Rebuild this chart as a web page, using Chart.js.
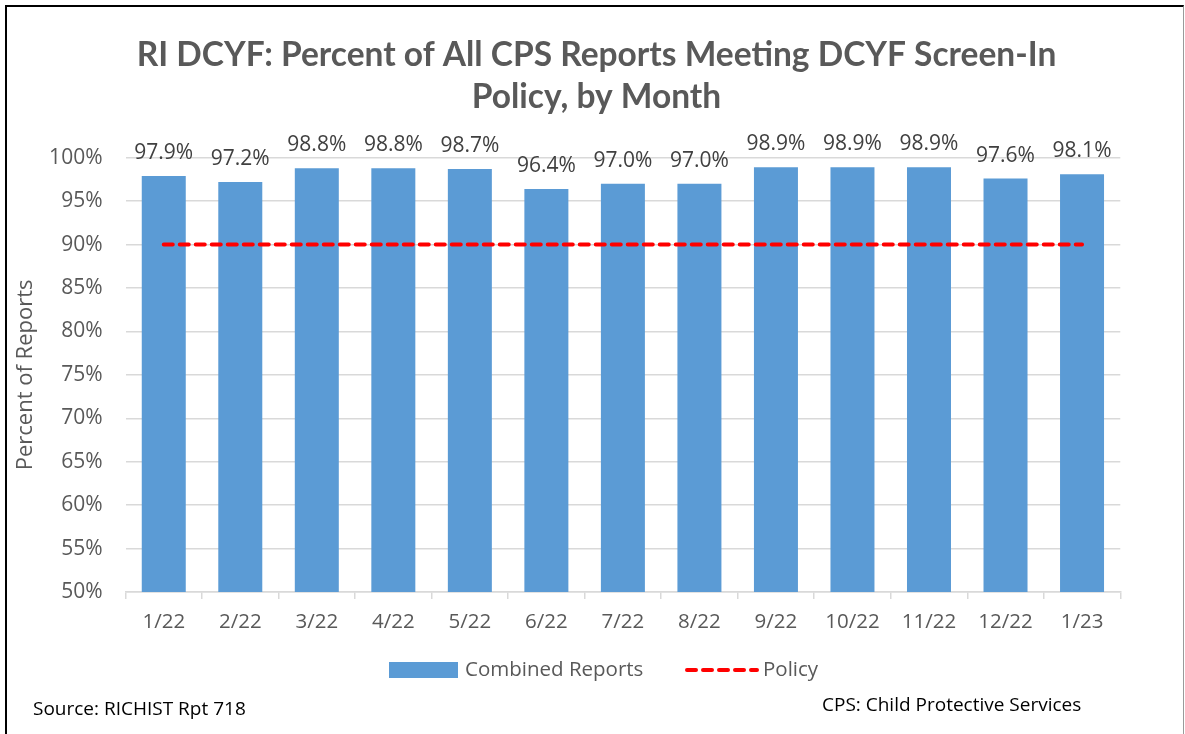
<!DOCTYPE html>
<html><head><meta charset="utf-8">
<script src="https://cdn.jsdelivr.net/npm/chart.js@4.4.0/dist/chart.umd.min.js"></script>
<style>
html,body{margin:0;padding:0;background:#fff;overflow:hidden;}
#wrap{position:relative;width:1185px;height:734px;}
#frame{position:absolute;left:5px;top:5px;width:1176px;height:740px;border-top:2px solid #000;border-left:2px solid #000;border-right:1px solid #9a9a9a;pointer-events:none;}
</style></head><body>
<div id="wrap"><canvas id="c" width="1185" height="734"></canvas><div id="frame"></div></div>
<script>
const categories = ['1/22','2/22','3/22','4/22','5/22','6/22','7/22','8/22','9/22','10/22','11/22','12/22','1/23'];
const combinedReports = [97.9, 97.2, 98.8, 98.8, 98.7, 96.4, 97.0, 97.0, 98.9, 98.9, 98.9, 97.6, 98.1];
const policy = [90, 90, 90, 90, 90, 90, 90, 90, 90, 90, 90, 90, 90];
const titleLines = ['RI DCYF: Percent of All CPS Reports Meeting DCYF Screen-In', 'Policy, by Month'];
const yAxisTitle = 'Percent of Reports';
const sourceNote = 'Source: RICHIST Rpt 718';
const cpsNote = 'CPS: Child Protective Services';
const yMin = 50, yMax = 100, yStep = 5;

const BAR = '#5B9BD5', RED = '#FF0000', GREY = '#595959', GRID = '#D9D9D9';
const FONT = "'Open Sans', sans-serif";

const labelsPlugin = {
  id: 'valueLabels',
  afterDatasetsDraw(chart) {
    const ctx = chart.ctx;
    const meta = chart.getDatasetMeta(0);
    ctx.save();
    ctx.font = '21px ' + FONT;
    ctx.fillStyle = '#404040';
    ctx.textAlign = 'center';
    ctx.textBaseline = 'alphabetic';
    meta.data.forEach((bar, i) => {
      ctx.fillText(chart.data.datasets[0].data[i].toFixed(1) + '%', bar.x, bar.y - 17);
    });
    ctx.restore();
  },
  afterDraw(chart) {
    const ctx = chart.ctx;
    const ds = chart.data.datasets;
    ctx.save();
    // legend
    const ly = 670;
    ctx.font = '20.5px ' + FONT;
    ctx.textBaseline = 'middle';
    ctx.textAlign = 'left';
    let x = 389;
    ctx.fillStyle = ds[0].backgroundColor;
    ctx.fillRect(x, ly - 8, 69, 16);
    x += 76;
    ctx.fillStyle = GREY;
    ctx.fillText(ds[0].label, x, ly);
    x = 685;
    ctx.strokeStyle = ds[1].borderColor;
    ctx.lineWidth = ds[1].borderWidth;
    ctx.lineCap = 'round';
    ctx.setLineDash(ds[1].borderDash);
    ctx.beginPath();
    ctx.moveTo(x + 2, ly);
    ctx.lineTo(x + 72, ly);
    ctx.stroke();
    ctx.setLineDash([]);
    ctx.fillText(ds[1].label, 763, ly);
    // footnotes
    ctx.fillStyle = '#000';
    ctx.font = '19px ' + FONT;
    ctx.fillText(sourceNote, 33, 710);
    ctx.fillText(cpsNote, 822, 706);
    ctx.restore();
  }
};

new Chart(document.getElementById('c'), {
  data: {
    labels: categories,
    datasets: [
      { type: 'bar', label: 'Combined Reports', data: combinedReports, backgroundColor: BAR,
        barPercentage: 0.575, categoryPercentage: 1.0, order: 1 },
      { type: 'line', label: 'Policy', data: policy, borderColor: RED, borderWidth: 4,
        borderDash: [9, 7], borderCapStyle: 'round', pointRadius: 0, fill: false, order: 0 }
    ]
  },
  options: {
    responsive: false,
    animation: false,
    events: [],
    layout: { padding: { left: 8, right: 0, top: 0, bottom: 60 } },
    plugins: {
      legend: { display: false },
      tooltip: { enabled: false },
      title: {
        display: true, text: titleLines, color: '#595959',
        font: { family: 'Lato', size: 33.5, weight: 'bold', lineHeight: 1.25 },
        padding: { top: 34, bottom: 40 }
      }
    },
    scales: {
      x: {
        afterFit(s) { s.height = 82; },
        grid: { display: true, drawOnChartArea: false, drawTicks: true, tickLength: 7, color: GRID, lineWidth: 1.5, offset: true },
        border: { display: true, color: GRID, width: 1.5 },
        ticks: { color: GREY, font: { family: 'Open Sans', size: 20.5 }, padding: 11, maxRotation: 0 }
      },
      y: {
        min: yMin, max: yMax,
        afterFit(s) { s.width = 117.5; },
        grid: { color: GRID, lineWidth: 1.5, drawTicks: false },
        border: { display: false },
        ticks: { stepSize: yStep, color: GREY, font: { family: 'Open Sans', size: 21 }, padding: 23,
          callback: v => v + '%' },
        title: { display: true, text: yAxisTitle, color: GREY, font: { family: 'Open Sans', size: 22 },
          padding: { top: 5, bottom: 0 } }
      },
      spacer: {
        type: 'linear', position: 'right', display: true,
        afterFit(s) { s.width = 64.7; },
        grid: { display: false, drawTicks: false },
        border: { display: false },
        ticks: { display: false }
      }
    }
  },
  plugins: [labelsPlugin]
});
</script>
</body></html>
